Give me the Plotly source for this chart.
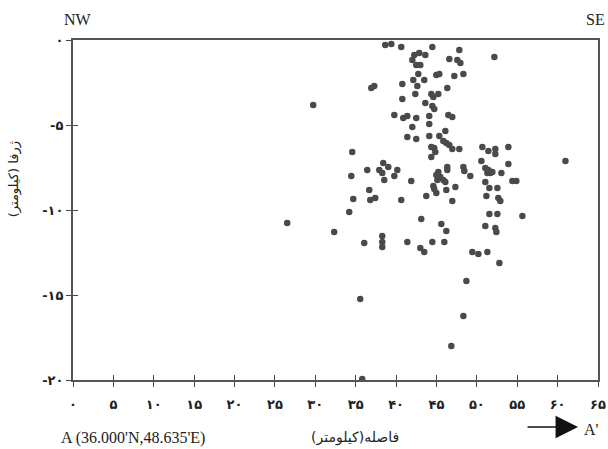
import plotly.graph_objects as go

# distance along profile (km)
dist_km = [38.66, 39.41, 40.64, 42.26, 42.87, 43.62, 44.49, 47.83, 42.01, 42.50,
           43.00, 46.59, 47.58, 47.96, 52.17, 42.75, 42.13, 43.49, 44.98, 45.35,
           47.21, 48.33, 42.63, 40.77, 36.93, 37.30, 46.34, 42.38, 44.36, 44.61,
           45.23, 29.74, 40.77, 43.62, 44.49, 44.73, 39.78, 40.89, 41.39, 42.50,
           44.11, 46.47, 46.96, 42.01, 44.11, 46.10, 41.39, 42.50, 44.11, 45.35,
           45.85, 46.22, 46.59, 44.36, 44.73, 46.96, 47.83, 50.68, 51.43, 52.29,
           52.29, 53.90, 34.57, 44.86, 44.36, 50.56, 60.97, 53.90, 38.41, 39.03,
           37.92, 38.29, 40.15, 36.43, 46.34, 46.34, 48.33, 48.45, 49.19, 51.05,
           51.43, 51.67, 51.30, 51.92, 53.04, 45.23, 44.98, 45.48, 45.11, 45.85,
           46.10, 34.45, 38.54, 39.78, 41.88, 51.05, 54.40, 54.89, 44.61, 44.73,
           47.34, 46.22, 51.55, 52.54, 43.74, 44.98, 51.18, 52.66, 52.91, 46.96,
           36.68, 34.70, 36.80, 37.42, 40.64, 34.20, 26.52, 32.34, 36.06, 38.29,
           38.29, 38.29, 41.39, 43.00, 43.49, 43.12, 45.60, 46.22, 44.49, 45.97,
           51.55, 52.54, 55.64, 51.05, 52.29, 52.42, 49.44, 50.19, 51.30, 52.79,
           48.70, 48.33, 46.84, 35.56, 35.81]

# depth (km, negative downward)
depth_km = [-0.29, -0.24, -0.41, -0.88, -0.76, -0.88, -0.41, -0.59, -1.18, -1.47,
            -1.47, -1.12, -1.18, -1.35, -1.00, -2.00, -2.35, -2.35, -2.06, -2.00,
            -2.12, -2.00, -2.71, -2.59, -2.82, -2.71, -2.82, -3.18, -3.18, -3.35,
            -3.18, -3.82, -3.47, -3.71, -3.88, -4.06, -4.41, -4.59, -4.47, -4.59,
            -4.47, -4.41, -4.53, -5.12, -4.94, -5.35, -5.71, -5.82, -5.65, -5.65,
            -5.94, -6.06, -6.18, -6.29, -6.35, -6.41, -6.41, -6.29, -6.53, -6.41,
            -6.71, -6.29, -6.59, -6.59, -6.88, -7.12, -7.12, -7.29, -7.24, -7.47,
            -7.65, -7.82, -7.65, -7.65, -7.47, -7.65, -7.47, -7.71, -8.00, -7.53,
            -7.65, -7.82, -7.82, -7.76, -7.82, -7.76, -7.94, -8.06, -8.24, -8.24,
            -8.35, -8.00, -8.24, -8.00, -8.29, -8.35, -8.29, -8.29, -8.59, -8.76,
            -8.65, -8.82, -8.71, -8.71, -9.18, -9.00, -9.18, -9.29, -9.47, -9.47,
            -8.82, -9.35, -9.41, -9.29, -9.41, -10.12, -10.76, -11.29, -11.94, -11.53,
            -11.88, -12.18, -11.88, -12.24, -12.47, -10.53, -10.82, -11.24, -11.88, -11.88,
            -10.24, -10.24, -10.35, -10.94, -11.06, -11.29, -12.47, -12.59, -12.47, -13.12,
            -14.18, -16.24, -18.00, -15.24, -19.94]

x_tickvals = [0, 5, 10, 15, 20, 25, 30, 35, 40, 45, 50, 55, 60, 65]
x_ticktext = ["۰", "۵", "۱۰", "۱۵", "۲۰", "۲۵", "۳۰", "۳۵", "۴۰", "۴۵", "۵۰", "۵۵", "۶۰", "۶۵"]
y_tickvals = [0, -5, -10, -15, -20]
y_ticktext = ["۰", "-۵", "-۱۰", "-۱۵", "-۲۰"]

x_title = "فاصله(کیلومتر)\u200F"
y_title = "ژرفا (کیلومتر)\u200F"
start_label = "A (36.000'N,48.635'E)"
end_label = "A'"

fig = go.Figure()
fig.add_trace(go.Scatter(
    x=dist_km, y=depth_km, mode="markers",
    marker=dict(size=6.5, color="#4a4a4a", line=dict(width=0)),
    showlegend=False, hoverinfo="skip"))
# helper trace to carry the inner tick axes
fig.add_trace(go.Scatter(x=[None], y=[None], xaxis="x2", yaxis="y2",
                         showlegend=False, hoverinfo="skip"))

tickfont = dict(family="DejaVu Sans", size=13, color="#222", weight=700)
fig.update_layout(
    width=608, height=449,
    margin=dict(l=73, r=10, t=40, b=69, autoexpand=False),
    paper_bgcolor="white", plot_bgcolor="white",
    xaxis=dict(range=[0, 65], tickvals=x_tickvals, ticktext=x_ticktext,
               ticks="outside", ticklen=5, tickwidth=1, tickcolor="#444",
               showgrid=False, zeroline=False, showline=True, mirror=True,
               linecolor="#555", linewidth=2, tickfont=tickfont,
               ticklabelstandoff=6, automargin=False),
    yaxis=dict(range=[-20, 0], tickvals=y_tickvals, ticktext=y_ticktext,
               ticks="outside", ticklen=5, tickwidth=1, tickcolor="#444",
               showgrid=False, zeroline=False, showline=True, mirror=True,
               linecolor="#555", linewidth=2, tickfont=tickfont, automargin=False),
    xaxis2=dict(overlaying="x", matches="x", side="bottom", tickvals=x_tickvals,
                ticks="inside", ticklen=5, tickwidth=1, tickcolor="#444",
                showticklabels=False, showgrid=False, zeroline=False, showline=False,
                automargin=False),
    yaxis2=dict(overlaying="y", matches="y", side="left", tickvals=y_tickvals,
                ticks="inside", ticklen=5, tickwidth=1, tickcolor="#444",
                showticklabels=False, showgrid=False, zeroline=False, showline=False,
                automargin=False),
)

serif = dict(family="Liberation Serif", size=16, color="#222")
persian = dict(family="DejaVu Sans", size=14, color="#222")
persian_y = dict(family="DejaVu Sans", size=13, color="#222")


def label(x, y, text, font, angle=0):
    fig.add_annotation(xref="paper", yref="paper", x=x, y=y, text=text,
                       xanchor="center", yanchor="middle", textangle=angle,
                       showarrow=False, font=font)


label(0.010, 1.059, "NW", serif)
label(0.996, 1.059, "SE", serif)
label(0.114, -0.171, start_label, serif)
label(0.537, -0.168, x_title, persian)
label(-0.112, 0.591, y_title, persian_y, angle=-90)
label(0.987, -0.147, end_label, serif)
fig.add_annotation(xref="paper", yref="paper", x=0.962, y=-0.138, text="",
                   showarrow=True, ax=-52, ay=0, arrowhead=2, arrowsize=3,
                   arrowwidth=1.5, arrowcolor="#111")

fig.write_html("out.html",
               config={"displayModeBar": False},
               post_script="document.body.style.margin='0';"
                           "document.documentElement.style.overflow='hidden';")
